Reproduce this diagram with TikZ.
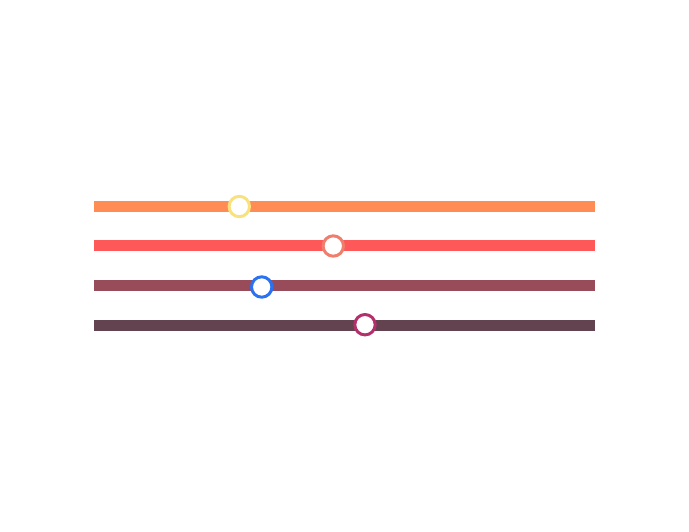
\documentclass[tikz,border=0pt]{standalone}
\usepackage{tikz}
\definecolor{trackA}{HTML}{FF8C55}
\definecolor{trackB}{HTML}{FF5858}
\definecolor{trackC}{HTML}{984C5A}
\definecolor{trackD}{HTML}{62434F}
\definecolor{knobA}{HTML}{F9E27C}
\definecolor{knobB}{HTML}{EF7F6C}
\definecolor{knobC}{HTML}{2B72F2}
\definecolor{knobD}{HTML}{B3306D}
\tikzset{
  track/.style={line width=11pt},
  knob/.style={line width=3pt, fill=white}
}
\begin{document}
\begin{tikzpicture}[x=1pt,y=-1pt]
            \useasboundingbox (0,0) rectangle (689,532);
            
            % Drawing track 1 and its knob
            \draw [track, trackA] (94,206.5) -- (595,206.5);%
            \draw [knob, draw=knobA] (239.3,206.5) circle (10.2);%
            
            % Drawing track 2 and its knob
            \draw [track, trackB] (94,246) -- (595,246);%
            \draw [knob, draw=knobB] (333.3,246) circle (10.2);%
            
            % Drawing track 3 and its knob
            \draw [track, trackC] (94,285.5) -- (595,285.5);%
            \draw [knob, draw=knobC] (261.7,287) circle (10.2);%
            
            % Drawing track 4 and its knob
            \draw [track, trackD] (94,325) -- (595,325);%
            \draw [knob, draw=knobD] (365,324.7) circle (10.2);%
\end{tikzpicture}
\end{document}
